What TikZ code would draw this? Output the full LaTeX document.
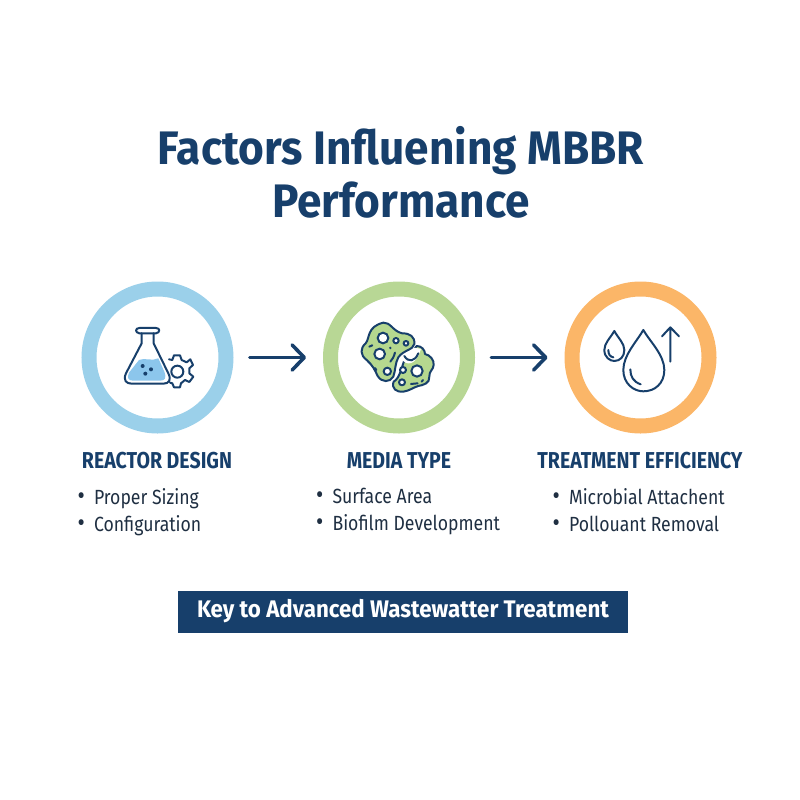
\documentclass[tikz,border=0pt]{standalone}
\usepackage{fontspec}
\usetikzlibrary{arrows.meta}
\setmainfont{Fira Sans}
\newfontfamily\titlefont[FakeStretch=0.94]{Fira Sans}
\newfontfamily\headfont[FakeStretch=0.85]{Fira Sans}
\newfontfamily\itemfont[FakeStretch=0.86]{Fira Sans}
\newfontfamily\bannerfont[FakeStretch=0.93]{Fira Sans}
\newcommand{\itembullet}{\makebox[16.5pt][l]{\fontsize{26}{27}\selectfont •}}
\definecolor{navy}{HTML}{173F6B}
\definecolor{inkdark}{HTML}{1F2F42}
\definecolor{ringblue}{HTML}{9BD0EA}
\definecolor{ringgreen}{HTML}{B8D795}
\definecolor{ringorange}{HTML}{FBB668}
\definecolor{flaskfill}{HTML}{8CC6EC}
\definecolor{cellfill}{HTML}{B5D88F}
\tikzset{
  ring/.style={circle,draw=#1,line width=15pt,minimum size=137pt,inner sep=0pt,outer sep=7.5pt,fill=white},
  flowarrow/.style={draw=navy,line width=2.7pt,line cap=round,line join=round,
    -{Straight Barb[length=12pt,width=25pt,line width=3.6pt,round]},shorten <=16pt,shorten >=17pt},
  icon/.style={draw=navy,line width=2pt,line cap=round,line join=round},
  head/.style={text=navy,font=\fontsize{23}{26}\headfont\bfseries,anchor=center},
  items/.style={text=inkdark,font=\fontsize{20.5}{27}\itemfont,align=left,anchor=north west},
}
\begin{document}
\begin{tikzpicture}[x=1pt,y=-1pt]
\useasboundingbox (0,0) rectangle (800,800);
\node[text=navy,font=\fontsize{47}{53}\titlefont\bfseries,align=center] (title) at (401,172) {Factors Influening MBBR\\Performance};
\node[ring=ringblue] (c1) at (157.5,357.5) {};
\node[ring=ringgreen] (c2) at (399,357.5) {};
\node[ring=ringorange] (c3) at (640.5,357.5) {};
\draw[flowarrow] (c1) -- (c2);
\draw[flowarrow] (c2) -- (c3);
% flask
\begin{scope}[shift={(70,270)},x=0.3333pt,y=-0.3333pt]
\fill[flaskfill] (207,270) .. controls (225,262) and (245,275) .. (265,265) -- (283,305) .. controls (290,325) and (285,332) .. (270,332) -- (190,332) .. controls (175,332) and (170,325) .. (177,308) -- cycle;
\draw[icon] (215,190) -- (215,220) -- (168,310) .. controls (158,332) and (170,341) .. (185,341) -- (280,341) .. controls (297,341) and (305,330) .. (295,310) -- (251,220) -- (251,190);
\draw[icon] (208,190) .. controls (195,188) and (195,174) .. (208,174) -- (258,174) .. controls (271,174) and (271,188) .. (258,190) -- cycle;
\fill[navy] (218,288) circle (6) (243,298) circle (6) (226,311) circle (6);
\draw[icon] (297,268) -- (307,270) -- (312,256) -- (330,256) -- (335,270) -- (350,277) -- (361,268) -- (369,285) -- (358,295) -- (358,310) -- (370,320) -- (358,336) -- (345,330) -- (333,340) -- (330,352) -- (312,352) -- (307,340) -- (300,338);
\draw[icon] (322,305) circle (18);
\end{scope}
% cells
\begin{scope}[shift={(315,270)},x=0.3333pt,y=-0.3333pt]
\path[icon,fill=cellfill] (265,365) .. controls (245,368) and (228,355) .. (236,335) .. controls (255,325) and (262,285) .. (270,265) .. controls (285,255) and (295,240) .. (305,228) .. controls (320,228) and (330,240) .. (330,252) .. controls (345,255) and (358,270) .. (356,285) .. controls (355,300) and (342,303) .. (343,320) .. controls (345,340) and (325,345) .. (310,348) .. controls (295,352) and (285,362) .. (265,365) -- cycle;
\path[draw=white,line width=3pt,fill=white] (262,262) .. controls (275,285) and (300,280) .. (312,240) -- (262,232) -- cycle;
\path[icon,fill=cellfill] (205,158) .. controls (225,155) and (235,185) .. (262,190) .. controls (285,190) and (300,200) .. (298,222) .. controls (295,240) and (265,240) .. (250,262) .. controls (240,280) and (242,300) .. (235,320) .. controls (225,338) and (200,338) .. (188,318) .. controls (180,300) and (172,285) .. (155,270) .. controls (135,255) and (135,235) .. (152,220) .. controls (165,205) and (155,170) .. (205,158) -- cycle;
\draw[icon,fill=white] (204,204) circle (16) (194,252) circle (16) (217,304) circle (11) (243,212) circle (8) (273,220) circle (7) (306,303) circle (17) (264,300) circle (9) (261,337) circle (9);
\draw[icon] (268,258) .. controls (280,278) and (300,275) .. (310,250);
\draw[icon] (163,230) -- (172,226) (240,248) .. controls (236,262) and (232,268) .. (226,275) (180,294) -- (184,300) (288,342) -- (308,340) (320,335) -- (324,330);
\fill[navy] (226,234) circle (4);
\end{scope}
% drops
\begin{scope}[shift={(555,270)},x=0.3333pt,y=-0.3333pt]
\draw[icon] (178,183) .. controls (165,205) and (148,220) .. (148,240) .. controls (148,262) and (165,273) .. (178,273) .. controls (195,273) and (208,260) .. (208,240) .. controls (208,220) and (190,205) .. (178,183) -- cycle;
\draw[icon] (160,240) .. controls (160,253) and (165,260) .. (175,262);
\draw[icon] (265,180) .. controls (245,215) and (205,255) .. (205,300) .. controls (205,340) and (235,364) .. (265,364) .. controls (300,364) and (328,340) .. (328,300) .. controls (328,255) and (285,215) .. (265,180) -- cycle;
\draw[icon] (226,298) .. controls (226,320) and (235,335) .. (257,343);
\draw[icon] (346,275) -- (346,172) (321,199) -- (346,172) -- (372,199);
\end{scope}
\node[head] (h1) at (157,461) {REACTOR DESIGN};
\node[head] (h2) at (399,461) {MEDIA TYPE};
\node[head] (h3) at (640,461) {TREATMENT EFFICIENCY};
\node[items] (l1) at (74,484.5) {\itembullet Proper Sizing\\\itembullet Configuration};
\node[items] (l2) at (312.5,484.5) {\itembullet Surface Area\\\itembullet Biofilm Development};
\node[items] (l3) at (549,484.5) {\itembullet Microbial Attachent\\\itembullet Pollouant Removal};
\node[fill=navy,text=white,font=\fontsize{24}{26}\bannerfont\bfseries,minimum width=450pt,minimum height=42pt,inner sep=0pt] (banner) at (403,611.5) {Key to Advanced Wastewatter Treatment};
\end{tikzpicture}
\end{document}
